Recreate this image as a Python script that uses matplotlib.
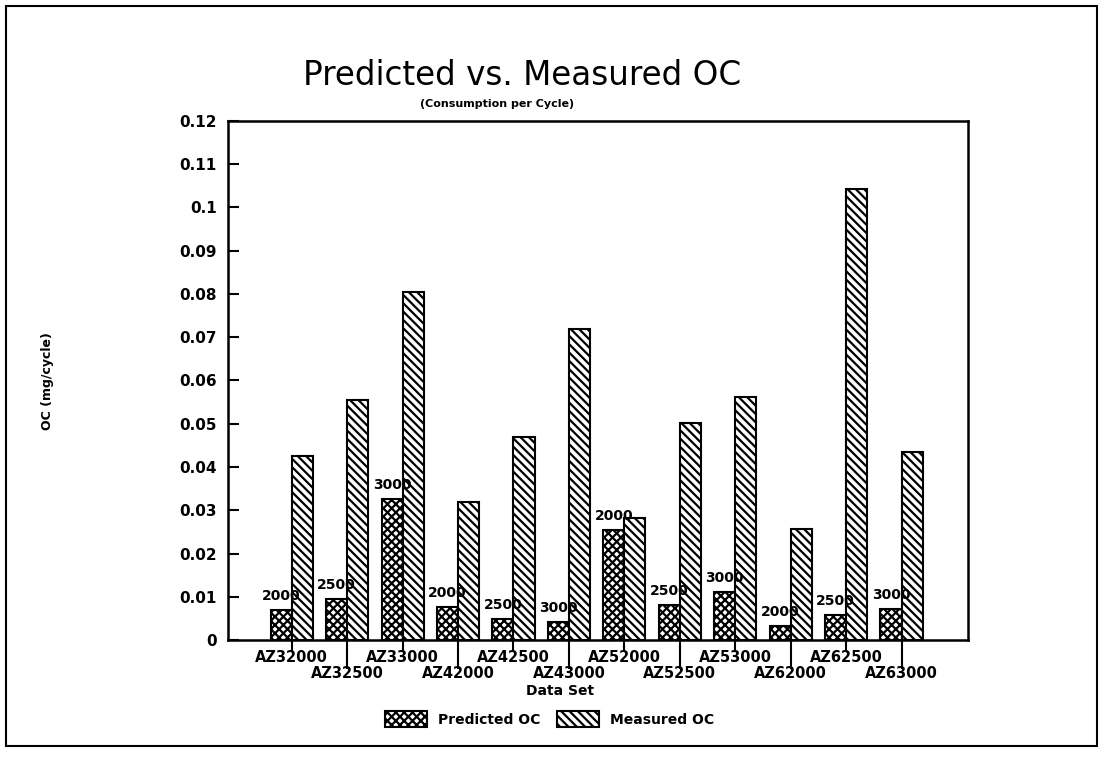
import numpy as np
import matplotlib
matplotlib.use("Agg")
import matplotlib.pyplot as plt
from matplotlib.patches import Rectangle
from matplotlib.ticker import FormatStrFormatter

data_sets = ["AZ32000", "AZ32500", "AZ33000", "AZ42000", "AZ42500", "AZ43000",
             "AZ52000", "AZ52500", "AZ53000", "AZ62000", "AZ62500", "AZ63000"]
speed_labels = ["2000", "2500", "3000", "2000", "2500", "3000",
                "2000", "2500", "3000", "2000", "2500", "3000"]
predicted_oc = [0.0069, 0.0095, 0.0326, 0.0077, 0.0048, 0.0042,
                0.0254, 0.0081, 0.0110, 0.0033, 0.0059, 0.0072]
measured_oc = [0.0425, 0.0555, 0.0805, 0.0320, 0.0470, 0.0720,
               0.0281, 0.0502, 0.0562, 0.0256, 0.1042, 0.0434]

plt.rcParams['hatch.linewidth'] = 1.6

fig = plt.figure(figsize=(11.1, 7.74), dpi=100)
ax = fig.add_axes([0.2054, 0.1731, 0.6667, 0.6706])

x = np.arange(len(data_sets))
w = 0.38
ax.bar(x - w / 2, predicted_oc, w, color='white', edgecolor='black',
       hatch='xxxx', linewidth=1.5, label='Predicted OC')
ax.bar(x + w / 2, measured_oc, w, color='white', edgecolor='black',
       hatch='\\\\\\\\', linewidth=1.5, label='Measured OC')

for xi, yi, s in zip(x, predicted_oc, speed_labels):
    ax.annotate(s, (xi - w / 2, yi), xytext=(0, 5), textcoords='offset points',
                ha='center', va='bottom', fontsize=10, fontweight='bold')

ax.set_xlim(-1.15, 12.2)
ax.set_ylim(0, 0.12)
ax.set_yticks(np.arange(0, 0.121, 0.01))
ax.yaxis.set_major_formatter(FormatStrFormatter('%g'))
ax.tick_params(axis='y', direction='in', length=8, width=1.5, pad=8,
               labelsize=11)
for t in ax.get_yticklabels():
    t.set_fontweight('bold')

# staggered category labels: even ones on the first row, odd ones lower
ax.set_xticks(x[::2], [data_sets[i] for i in x[::2]])
ax.set_xticks(x[1::2], [data_sets[i] for i in x[1::2]], minor=True)
ax.tick_params(axis='x', which='major', direction='out', length=8, width=1.5,
               pad=-1, labelsize=10.5)
ax.tick_params(axis='x', which='minor', direction='out', length=21, width=1.5,
               pad=-2, labelsize=10.5)
for t in ax.get_xticklabels(which='both'):
    t.set_fontweight('bold')

for sp in ax.spines.values():
    sp.set_linewidth(1.8)

fig.text(0.470, 0.903, "Predicted vs. Measured OC", ha='center', va='center',
         fontsize=23.5)
fig.text(0.448, 0.866, "(Consumption per Cycle)", ha='center', va='center',
         fontsize=8, fontweight='bold')
fig.text(0.043, 0.508, "OC (mg/cycle)", rotation=90, ha='center', va='center',
         fontsize=9, fontweight='bold')
fig.text(0.505, 0.107, "Data Set", ha='center', va='center',
         fontsize=10, fontweight='bold')

fig.legend(loc='center', bbox_to_anchor=(0.495, 0.071), ncol=2, frameon=False,
           handlelength=3.0, handleheight=1.3, columnspacing=1.2,
           prop={'size': 10, 'weight': 'bold'})

fig.patches.append(Rectangle((0.005, 0.036), 0.983, 0.956, transform=fig.transFigure,
                             fill=False, edgecolor='black', linewidth=1.5))

fig.savefig("out.png", dpi=100)
